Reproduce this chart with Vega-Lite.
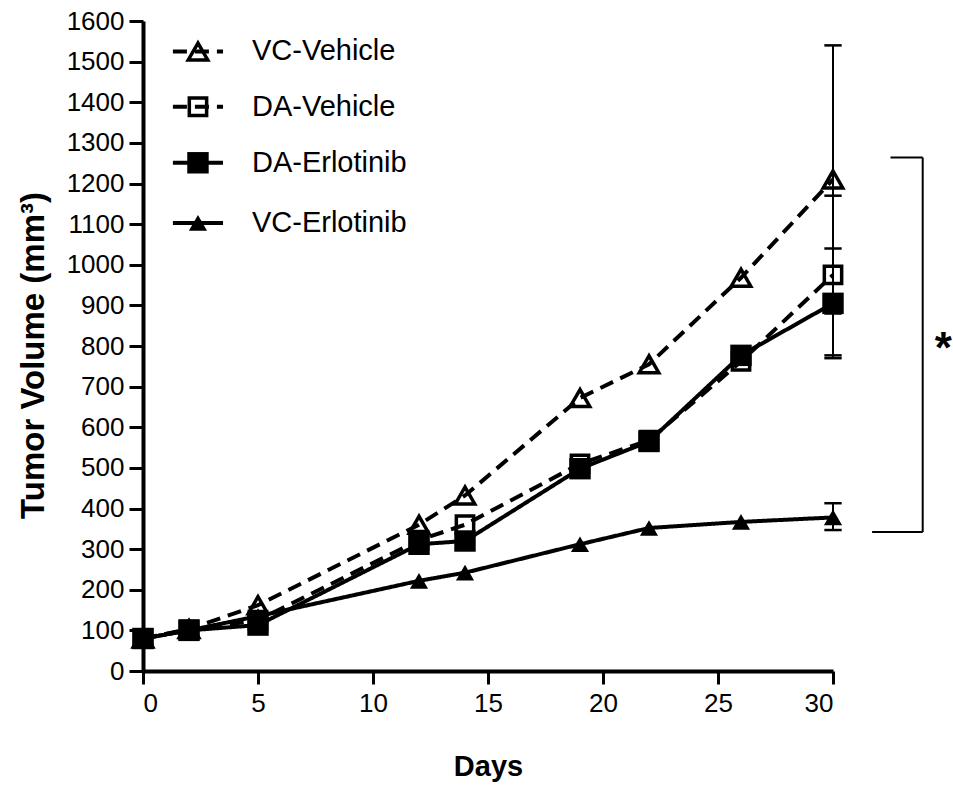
{
  "$schema": "https://vega.github.io/schema/vega-lite/v6.json",
  "width": 690,
  "height": 650,
  "autosize": {"type": "none"},
  "padding": {"left": 143, "top": 21, "right": 120, "bottom": 117},
  "background": "white",
  "config": {
    "view": {"stroke": null},
    "font": "Liberation Sans",
    "axis": {
      "grid": false,
      "domainColor": "black",
      "domainWidth": 4,
      "tickColor": "black",
      "tickWidth": 3,
      "labelColor": "black",
      "labelFont": "Liberation Sans",
      "labelFontSize": 26,
      "titleColor": "black",
      "titleFont": "Liberation Sans",
      "titleFontSize": 29,
      "titleFontWeight": "bold"
    }
  },
  "datasets": {
    "series": [
      {"group": "VC-Vehicle", "role": "data", "day": 0, "vol": 80},
      {"group": "VC-Vehicle", "role": "data", "day": 2, "vol": 103},
      {"group": "VC-Vehicle", "role": "data", "day": 5, "vol": 162},
      {"group": "VC-Vehicle", "role": "data", "day": 12, "vol": 360},
      {"group": "VC-Vehicle", "role": "data", "day": 14, "vol": 432},
      {"group": "VC-Vehicle", "role": "data", "day": 19, "vol": 672},
      {"group": "VC-Vehicle", "role": "data", "day": 22, "vol": 755},
      {"group": "VC-Vehicle", "role": "data", "day": 26, "vol": 968},
      {"group": "VC-Vehicle", "role": "data", "day": 30, "vol": 1210},
      {"group": "DA-Vehicle", "role": "data", "day": 0, "vol": 80},
      {"group": "DA-Vehicle", "role": "data", "day": 2, "vol": 102},
      {"group": "DA-Vehicle", "role": "data", "day": 5, "vol": 125},
      {"group": "DA-Vehicle", "role": "data", "day": 12, "vol": 322},
      {"group": "DA-Vehicle", "role": "data", "day": 14, "vol": 360},
      {"group": "DA-Vehicle", "role": "data", "day": 19, "vol": 510},
      {"group": "DA-Vehicle", "role": "data", "day": 22, "vol": 568},
      {"group": "DA-Vehicle", "role": "data", "day": 26, "vol": 762},
      {"group": "DA-Vehicle", "role": "data", "day": 30, "vol": 975},
      {"group": "DA-Erlotinib", "role": "data", "day": 0, "vol": 80},
      {"group": "DA-Erlotinib", "role": "data", "day": 2, "vol": 100},
      {"group": "DA-Erlotinib", "role": "data", "day": 5, "vol": 113},
      {"group": "DA-Erlotinib", "role": "data", "day": 12, "vol": 312},
      {"group": "DA-Erlotinib", "role": "data", "day": 14, "vol": 320},
      {"group": "DA-Erlotinib", "role": "data", "day": 19, "vol": 498},
      {"group": "DA-Erlotinib", "role": "data", "day": 22, "vol": 565},
      {"group": "DA-Erlotinib", "role": "data", "day": 26, "vol": 777},
      {"group": "DA-Erlotinib", "role": "data", "day": 30, "vol": 905},
      {"group": "VC-Erlotinib", "role": "data", "day": 0, "vol": 80},
      {"group": "VC-Erlotinib", "role": "data", "day": 2, "vol": 100},
      {"group": "VC-Erlotinib", "role": "data", "day": 5, "vol": 135},
      {"group": "VC-Erlotinib", "role": "data", "day": 12, "vol": 222},
      {"group": "VC-Erlotinib", "role": "data", "day": 14, "vol": 242},
      {"group": "VC-Erlotinib", "role": "data", "day": 19, "vol": 312},
      {"group": "VC-Erlotinib", "role": "data", "day": 22, "vol": 352},
      {"group": "VC-Erlotinib", "role": "data", "day": 26, "vol": 367},
      {"group": "VC-Erlotinib", "role": "data", "day": 30, "vol": 378},
      {"group": "VC-Vehicle", "role": "legend", "day": 2.39, "from": 1.3, "to": 3.48, "vol": 1525},
      {"group": "DA-Vehicle", "role": "legend", "day": 2.39, "from": 1.3, "to": 3.48, "vol": 1389},
      {"group": "DA-Erlotinib", "role": "legend", "day": 2.39, "from": 1.3, "to": 3.48, "vol": 1251},
      {"group": "VC-Erlotinib", "role": "legend", "day": 2.39, "from": 1.3, "to": 3.48, "vol": 1103}
    ],
    "errors": [
      {"group": "VC-Vehicle", "day": 30, "lo": 880, "hi": 1540},
      {"group": "DA-Vehicle", "day": 30, "lo": 777, "hi": 1170},
      {"group": "DA-Erlotinib", "day": 30, "lo": 770, "hi": 1040},
      {"group": "VC-Erlotinib", "day": 30, "lo": 347, "hi": 413}
    ],
    "bracket": [
      {"day": 32.5, "day2": 33.9, "vol": 1264, "vol2": 1264},
      {"day": 33.9, "day2": 33.9, "vol": 1264, "vol2": 342},
      {"day": 31.7, "day2": 33.9, "vol": 342, "vol2": 342}
    ],
    "star": [
      {"day": 34.8, "vol": 790, "label": "*"}
    ]
  },
  "layer": [
    {
      "data": {"name": "series"},
      "transform": [{"filter": "datum.role === 'data'"}],
      "mark": {"type": "line", "color": "black", "strokeWidth": 4},
      "encoding": {
        "x": {
          "field": "day", "type": "quantitative",
          "scale": {"domain": [0, 30], "nice": false, "zero": false},
          "axis": {"title": "Days", "values": [0, 5, 10, 15, 20, 25, 30], "tickSize": 13, "labelPadding": 6, "titlePadding": 36}
        },
        "y": {
          "field": "vol", "type": "quantitative",
          "scale": {"domain": [0, 1600], "nice": false},
          "axis": {"title": "Tumor Volume (mm³)", "titleFontSize": 33, "titleY": 334, "values": [0,100,200,300,400,500,600,700,800,900,1000,1100,1200,1300,1400,1500,1600], "format": "d", "tickSize": 14, "labelPadding": 5, "titlePadding": 16}
        },
        "detail": {"field": "group"},
        "strokeDash": {
          "field": "group", "type": "nominal", "legend": null,
          "scale": {"domain": ["VC-Vehicle", "DA-Vehicle", "DA-Erlotinib", "VC-Erlotinib"], "range": [[14, 8], [14, 8], [1, 0], [1, 0]]}
        }
      }
    },
    {
      "data": {"name": "series"},
      "transform": [{"filter": "datum.role === 'legend'"}],
      "mark": {"type": "rule", "color": "black", "strokeWidth": 4},
      "encoding": {
        "x": {"field": "from", "type": "quantitative"},
        "x2": {"field": "to"},
        "y": {"field": "vol", "type": "quantitative"},
        "strokeDash": {"field": "group", "type": "nominal", "legend": null}
      }
    },
    {
      "data": {"name": "series"},
      "transform": [{"filter": "datum.role === 'legend'"}],
      "mark": {"type": "text", "align": "left", "baseline": "middle", "dx": 54, "fontSize": 29, "font": "Liberation Sans", "color": "black"},
      "encoding": {
        "x": {"field": "day", "type": "quantitative"},
        "y": {"field": "vol", "type": "quantitative"},
        "text": {"field": "group"}
      }
    },
    {
      "data": {"name": "errors"},
      "mark": {"type": "rule", "color": "black", "strokeWidth": 2},
      "encoding": {
        "x": {"field": "day", "type": "quantitative"},
        "y": {"field": "lo", "type": "quantitative"},
        "y2": {"field": "hi"}
      }
    },
    {
      "data": {"name": "errors"},
      "mark": {"type": "point", "shape": "stroke", "size": 300, "color": "black", "strokeWidth": 2.5, "opacity": 1},
      "encoding": {
        "x": {"field": "day", "type": "quantitative"},
        "y": {"field": "lo", "type": "quantitative"}
      }
    },
    {
      "data": {"name": "errors"},
      "mark": {"type": "point", "shape": "stroke", "size": 300, "color": "black", "strokeWidth": 2.5, "opacity": 1},
      "encoding": {
        "x": {"field": "day", "type": "quantitative"},
        "y": {"field": "hi", "type": "quantitative"}
      }
    },
    {
      "data": {"name": "series"},
      "transform": [{"filter": "datum.group === 'VC-Erlotinib'"}],
      "mark": {"type": "point", "shape": "triangle-up", "size": 330, "filled": true, "color": "black", "opacity": 1},
      "encoding": {
        "x": {"field": "day", "type": "quantitative"},
        "y": {"field": "vol", "type": "quantitative"}
      }
    },
    {
      "data": {"name": "series"},
      "transform": [{"filter": "datum.group === 'DA-Vehicle'"}],
      "mark": {"type": "point", "shape": "square", "size": 300, "filled": false, "color": "black", "strokeWidth": 3.5, "opacity": 1},
      "encoding": {
        "x": {"field": "day", "type": "quantitative"},
        "y": {"field": "vol", "type": "quantitative"}
      }
    },
    {
      "data": {"name": "series"},
      "transform": [{"filter": "datum.group === 'DA-Erlotinib'"}],
      "mark": {"type": "point", "shape": "square", "size": 460, "filled": true, "color": "black", "opacity": 1},
      "encoding": {
        "x": {"field": "day", "type": "quantitative"},
        "y": {"field": "vol", "type": "quantitative"}
      }
    },
    {
      "data": {"name": "series"},
      "transform": [{"filter": "datum.group === 'VC-Vehicle'"}],
      "mark": {"type": "point", "shape": "triangle-up", "size": 380, "filled": false, "color": "black", "strokeWidth": 3.5, "opacity": 1},
      "encoding": {
        "x": {"field": "day", "type": "quantitative"},
        "y": {"field": "vol", "type": "quantitative"}
      }
    },
    {
      "data": {"name": "bracket"},
      "mark": {"type": "rule", "color": "black", "strokeWidth": 2},
      "encoding": {
        "x": {"field": "day", "type": "quantitative"},
        "x2": {"field": "day2"},
        "y": {"field": "vol", "type": "quantitative"},
        "y2": {"field": "vol2"}
      }
    },
    {
      "data": {"name": "star"},
      "mark": {"type": "text", "fontSize": 44, "fontWeight": "bold", "font": "Liberation Sans", "color": "black", "baseline": "middle", "align": "center"},
      "encoding": {
        "x": {"field": "day", "type": "quantitative"},
        "y": {"field": "vol", "type": "quantitative"},
        "text": {"field": "label"}
      }
    }
  ]
}
